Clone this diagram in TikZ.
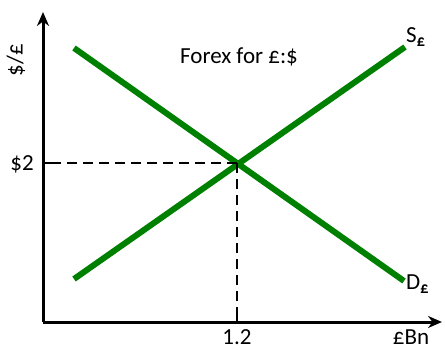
\documentclass[tikz,border=0pt]{standalone}
\usepackage{fontspec}
\setmainfont{Carlito}
\usetikzlibrary{arrows.meta}
\definecolor{curvegreen}{RGB}{0,128,0}
\begin{document}
\begin{tikzpicture}[x=1pt,y=-1pt,
  axis/.style={line width=3pt,-{Stealth[length=14pt,width=12pt]}},
  curve/.style={line width=6pt,curvegreen},
  guide/.style={line width=2.8pt,dash pattern=on 10pt off 6pt},
  lbl/.style={font=\fontsize{23}{26}\selectfont,inner sep=0pt}]
\useasboundingbox (0,0) rectangle (445,350);
\coordinate (O) at (43,322);
\coordinate (ytop) at (43,12);
\coordinate (xend) at (442,322);
\draw[axis] (O) -- (ytop);
\draw[axis] (O) -- (xend);
\coordinate (d1) at (74,48);
\coordinate (d2) at (404,281);
\coordinate (s1) at (74,279);
\coordinate (s2) at (405,47);
\draw[curve] (d1) -- (d2);
\draw[curve] (s1) -- (s2);
\coordinate (E) at (237,163);
\coordinate (Ey) at (43,163);
\coordinate (Ex) at (237,322);
\draw[guide] (E) -- (Ey);
\draw[guide] (E) -- (Ex);
\draw[line width=2.8pt] (Ey) -- ++(10,0);
\draw[line width=2.8pt] (Ex) -- ++(0,-10);
\node[lbl,rotate=90] (ylab) at (16,60) {\$/£};
\node[lbl] (title) at (239,57) {Forex for £:\$};
\node[lbl,anchor=west] (slab) at (406,37) {S\textsubscript{\textbf{£}}};
\node[lbl,anchor=west] (dlab) at (406,284) {D\textsubscript{\textbf{£}}};
\node[lbl] (p) at (22,164) {\$2};
\node[lbl] (q) at (237,337) {1.2};
\node[lbl] (xlab) at (411,337) {£Bn};
\end{tikzpicture}
\end{document}
